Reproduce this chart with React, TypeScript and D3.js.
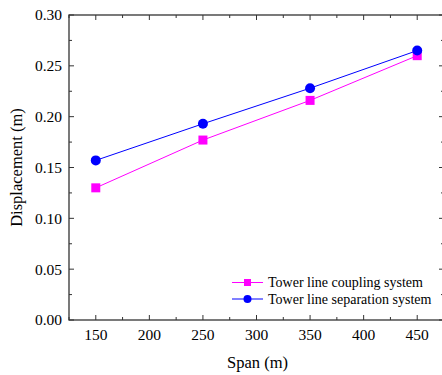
import React from "react";
import * as d3 from "d3";

const spans = [150, 250, 350, 450];
const coupling = [0.130, 0.177, 0.216, 0.260];
const separation = [0.157, 0.193, 0.228, 0.265];
const xTicks = [150, 200, 250, 300, 350, 400, 450];
const yTicks = [0, 0.05, 0.1, 0.15, 0.2, 0.25, 0.3];
const seriesNames = ["Tower line coupling system", "Tower line separation system"];

const W = 442, H = 375;
const L = 69, T = 15, R = 444, B = 320;
const FONT = "'Liberation Serif', 'Times New Roman', serif";

export default function App() {
  const x = d3.scaleLinear().domain([125, 475]).range([L, R]);
  const y = d3.scaleLinear().domain([0, 0.3]).range([B, T]);
  const line = d3.line<[number, number]>().x(d => x(d[0])).y(d => y(d[1]));
  const xMinor = d3.range(125, 476, 25).filter(v => v % 50 !== 0);
  const yMinor = d3.range(0.025, 0.3, 0.05);
  const axisColor = "#333";
  const ptsC: [number, number][] = spans.map((s, i) => [s, coupling[i]]);
  const ptsS: [number, number][] = spans.map((s, i) => [s, separation[i]]);
  return (
    <svg width={W} height={H} style={{ position: "absolute", left: 0, top: 0 }} fontFamily={FONT}>
      <rect x={0} y={0} width={W} height={H} fill="#fff" />
      {xTicks.map(v => (
        <g key={"xt" + v}>
          <line x1={x(v)} x2={x(v)} y1={B} y2={B - 5} stroke={axisColor} strokeWidth={1} />
          <line x1={x(v)} x2={x(v)} y1={T} y2={T + 5} stroke={axisColor} strokeWidth={1} />
          <text x={x(v)} y={340} textAnchor="middle" fontSize={15.5}>{v}</text>
        </g>
      ))}
      {xMinor.map(v => (
        <g key={"xm" + v}>
          <line x1={x(v)} x2={x(v)} y1={B} y2={B - 3} stroke={axisColor} strokeWidth={1} />
          <line x1={x(v)} x2={x(v)} y1={T} y2={T + 3} stroke={axisColor} strokeWidth={1} />
        </g>
      ))}
      {yTicks.map(v => (
        <g key={"yt" + v}>
          <line x1={L} x2={L + 5} y1={y(v)} y2={y(v)} stroke={axisColor} strokeWidth={1} />
          <line x1={R} x2={R - 5} y1={y(v)} y2={y(v)} stroke={axisColor} strokeWidth={1} />
          <text x={62} y={y(v)} dy="0.35em" textAnchor="end" fontSize={15.5}>{v.toFixed(2)}</text>
        </g>
      ))}
      {yMinor.map(v => (
        <g key={"ym" + v}>
          <line x1={L} x2={L + 3} y1={y(v)} y2={y(v)} stroke={axisColor} strokeWidth={1} />
          <line x1={R} x2={R - 3} y1={y(v)} y2={y(v)} stroke={axisColor} strokeWidth={1} />
        </g>
      ))}
      <rect x={L} y={T} width={R - L} height={B - T} fill="none" stroke={axisColor} strokeWidth={1.3} />
      <path d={line(ptsC) || ""} fill="none" stroke="#ff00ff" strokeWidth={1} />
      <path d={line(ptsS) || ""} fill="none" stroke="#0000ff" strokeWidth={1} />
      {ptsC.map((p, i) => (
        <rect key={"c" + i} x={x(p[0]) - 4.5} y={y(p[1]) - 4.5} width={9} height={9} fill="#ff00ff" />
      ))}
      {ptsS.map((p, i) => (
        <circle key={"s" + i} cx={x(p[0])} cy={y(p[1])} r={5} fill="#0000ff" />
      ))}
      <g>
        <line x1={232} x2={263} y1={282.5} y2={282.5} stroke="#ff00ff" strokeWidth={1} />
        <rect x={247.5 - 3.5} y={282.5 - 3.5} width={7} height={7} fill="#ff00ff" />
        <text x={268} y={282.5} dy="0.35em" fontSize={14}>{seriesNames[0]}</text>
        <line x1={232} x2={263} y1={299} y2={299} stroke="#0000ff" strokeWidth={1} />
        <circle cx={247.5} cy={299} r={4} fill="#0000ff" />
        <text x={268} y={299} dy="0.35em" fontSize={14}>{seriesNames[1]}</text>
      </g>
      <text x={(L + R) / 2 + 1} y={368} textAnchor="middle" fontSize={16.5}>Span (m)</text>
      <text transform={`translate(22,${(T + B) / 2}) rotate(-90)`} textAnchor="middle" fontSize={16.5}>Displacement (m)</text>
    </svg>
  );
}
